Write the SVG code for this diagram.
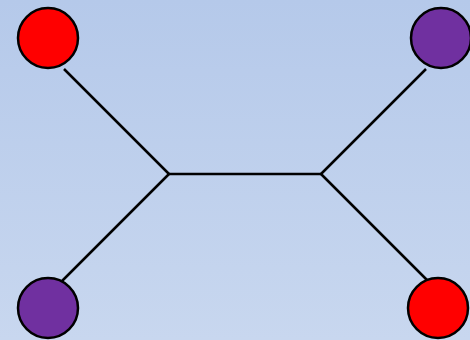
<svg xmlns="http://www.w3.org/2000/svg" width="470" height="340" viewBox="0 0 470 340">
  <defs>
    <linearGradient id="bg" x1="0" y1="0" x2="0" y2="1">
      <stop offset="0" stop-color="#b5c9ea"/>
      <stop offset="1" stop-color="#c8d7ef"/>
    </linearGradient>
    <style>
      .edge { stroke: #000; stroke-width: 2.5; fill: none; }
      .node { stroke: #000; stroke-width: 2.5; }
      .red { fill: #ff0000; }
      .purple { fill: #7030a0; }
    </style>
  </defs>
  <rect x="0" y="0" width="470" height="340" fill="url(#bg)"/>
  <g id="connectors">
    <line class="edge" x1="64" y1="69" x2="169" y2="174"/>
    <line class="edge" x1="62" y1="281" x2="169" y2="174"/>
    <line class="edge" x1="169" y1="174" x2="321" y2="174"/>
    <line class="edge" x1="321" y1="174" x2="426" y2="69"/>
    <line class="edge" x1="321" y1="174" x2="427" y2="280"/>
  </g>
  <g id="node-top-left"><circle class="node red" cx="48" cy="38" r="30"/></g>
  <g id="node-top-right"><circle class="node purple" cx="441" cy="38" r="30"/></g>
  <g id="node-bottom-left"><circle class="node purple" cx="48" cy="308" r="30"/></g>
  <g id="node-bottom-right"><circle class="node red" cx="438" cy="308" r="30"/></g>
</svg>
